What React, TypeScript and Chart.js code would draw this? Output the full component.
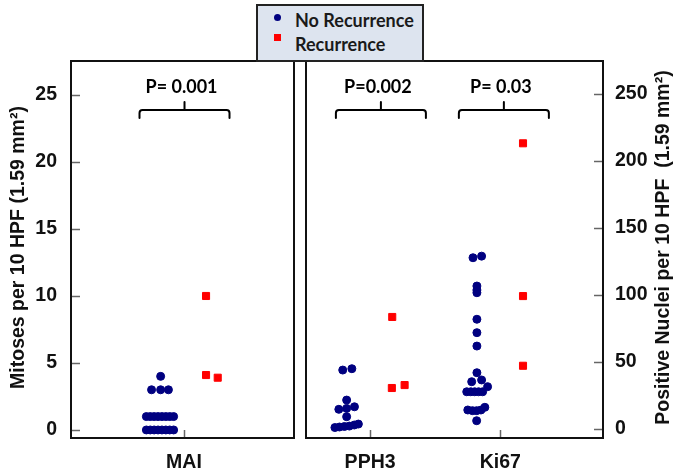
import React, { useEffect, useRef } from 'react';
import { Chart, registerables } from 'chart.js';
Chart.register(...registerables);

// ---------------- data ----------------
const leftCategories = ['MAI'];
const rightCategories = ['PPH3', 'Ki67'];
const leftTicks = [0, 5, 10, 15, 20, 25];
const rightTicks = [0, 50, 100, 150, 200, 250];
const seriesNames = ['No Recurrence', 'Recurrence'];
const leftPValues = ['P= 0.001'];
const rightPValues = ['P=0.002', 'P= 0.03'];
const leftTitle = 'Mitoses per 10 HPF (1.59 mm\u00B2)';
const rightTitle = 'Positive Nuclei per 10 HPF  (1.59 mm\u00B2)';

// MAI (left axis)
const maiNoRecValues = [0, 0, 0, 0, 0, 0, 0, 0, 1, 1, 1, 1, 1, 1, 1, 1, 3, 3, 3, 4];
const maiNoRecJitter = [-0.29, -0.26, -0.23, -0.2, -0.17, -0.14, -0.11, -0.08, -0.29, -0.26, -0.23, -0.2, -0.17, -0.14, -0.11, -0.08, -0.25, -0.18, -0.12, -0.18];
const maiRecValues = [10, 4.1, 3.9];
const maiRecJitter = [0.17, 0.17, 0.26];

// PPH3 (right axis)
const pph3NoRecValues = [44, 45, 21.6, 14.7, 15.4, 16.6, 9.2, 1.1, 1.5, 1.9, 2.2, 3.0, 3.7];
const pph3NoRecJitter = [-0.21, -0.14, -0.18, -0.24, -0.18, -0.12, -0.18, -0.27, -0.235, -0.197, -0.159, -0.121, -0.09];
const pph3RecValues = [83.6, 30.6, 32.8];
const pph3RecJitter = [0.17, 0.167, 0.265];

// Ki67 (right axis)
const ki67NoRecValues = [127.8, 129, 106.7, 103.7, 101.7, 81.9, 71.9, 61.9, 42, 35.3, 36.6, 27.8, 27.8, 27.8, 27.8, 27.8, 31.6, 14.2, 13.7, 13.7, 14.2, 16.2, 6.2];
const ki67NoRecJitter = [-0.21, -0.144, -0.18, -0.18, -0.18, -0.18, -0.18, -0.18, -0.18, -0.22, -0.144, -0.258, -0.227, -0.197, -0.167, -0.136, -0.098, -0.25, -0.214, -0.182, -0.149, -0.119, -0.182];
const ki67RecValues = [213.2, 99.2, 47.2];
const ki67RecJitter = [0.174, 0.174, 0.174];

// ---------------- styles ----------------
const NAVY = '#000080';
const RED = '#ff0000';
const AXIS_FONT = 'Liberation Sans, Arial, sans-serif';
const LABEL_FONT = 'Lato, sans-serif';

const toPoints = (pos: number, values: number[], jitter: number[]) =>
  values.map((v, i) => ({ x: pos + jitter[i], y: v }));

const panelPlugin = {
  id: 'panel',
  afterDraw(chart: any, _args: any, opts: any) {
    const { ctx, chartArea: a, scales } = chart;
    const xs = scales.x;
    const ys = scales.y;
    ctx.save();
    // inward ticks
    ctx.strokeStyle = '#666';
    ctx.lineWidth = 1.5;
    ys.ticks.forEach((t: any) => {
      const py = Math.round(ys.getPixelForValue(t.value)) + 0.5;
      ctx.beginPath();
      if (opts.side === 'left') {
        ctx.moveTo(a.left, py);
        ctx.lineTo(a.left + 9, py);
      } else {
        ctx.moveTo(a.right, py);
        ctx.lineTo(a.right - 9, py);
      }
      ctx.stroke();
    });
    xs.ticks.forEach((t: any) => {
      const px = Math.round(xs.getPixelForValue(t.value)) + 0.5;
      ctx.beginPath();
      ctx.moveTo(px, a.bottom);
      ctx.lineTo(px, a.bottom - 8);
      ctx.stroke();
    });
    // frame
    ctx.strokeStyle = '#111';
    ctx.lineWidth = 2;
    ctx.strokeRect(a.left, a.top, a.right - a.left, a.bottom - a.top);

    // brackets + p values
    ctx.strokeStyle = '#000';
    ctx.lineWidth = 2;
    ctx.lineCap = 'round';
    ctx.lineJoin = 'round';
    ctx.fillStyle = '#000';
    ctx.font = `bold 18px ${LABEL_FONT}`;
    ctx.textAlign = 'center';
    ctx.textBaseline = 'alphabetic';
    (opts.pLabels as string[]).forEach((label, i) => {
      const cx = xs.getPixelForValue(i + 1 + opts.bracketShift[i]);
      const hw = 45;
      const by = a.top + 49;
      const r = 3;
      ctx.beginPath();
      ctx.moveTo(cx - hw, by + 8);
      ctx.lineTo(cx - hw, by + r);
      ctx.quadraticCurveTo(cx - hw, by, cx - hw + r, by);
      ctx.lineTo(cx + hw - r, by);
      ctx.quadraticCurveTo(cx + hw, by, cx + hw, by + r);
      ctx.lineTo(cx + hw, by + 8);
      ctx.moveTo(cx, by);
      ctx.lineTo(cx, by - 8);
      ctx.stroke();
      ctx.fillText(label, cx - 3, a.top + 32);
    });

    // axis title (reads bottom to top)
    ctx.font = `bold 19.5px ${AXIS_FONT}`;
    ctx.fillStyle = '#111';
    const midY = (a.top + a.bottom) / 2 - 2;
    ctx.translate(opts.titleX, midY);
    ctx.rotate(-Math.PI / 2);
    ctx.textAlign = 'center';
    ctx.fillText(opts.title, 0, 0);
    ctx.restore();
  },
};

function makeConfig(
  categories: string[],
  ticks: number[],
  datasets: any[],
  side: 'left' | 'right',
  xmin: number,
  xmax: number,
  ymin: number,
  ymax: number,
  pLabels: string[],
  bracketShift: number[],
  title: string,
  titleX: number
): any {
  return {
    type: 'scatter',
    data: { datasets },
    plugins: [panelPlugin],
    options: {
      animation: false,
      responsive: false,
      maintainAspectRatio: false,
      layout: {
        padding: side === 'left' ? { top: 61, right: 2, left: 0, bottom: 0 } : { top: 61, left: 2, right: 0, bottom: 0 },
      },
      plugins: {
        legend: { display: false },
        tooltip: { enabled: false },
        panel: { side, pLabels, bracketShift, title, titleX },
      },
      scales: {
        x: {
          type: 'linear',
          min: xmin,
          max: xmax,
          grid: { display: false, drawTicks: false },
          border: { display: false },
          afterBuildTicks: (s: any) => {
            s.ticks = categories.map((_c, i) => ({ value: i + 1 }));
          },
          afterFit: (s: any) => {
            s.height = 35;
          },
          ticks: {
            padding: 13,
            color: '#111',
            font: { family: AXIS_FONT, weight: 'bold', size: 19.5 },
            callback: (v: number) => categories[Math.round(v) - 1] ?? '',
            maxRotation: 0,
            autoSkip: false,
          },
        },
        y: {
          type: 'linear',
          position: side,
          min: ymin,
          max: ymax,
          grid: { display: false, drawTicks: false },
          border: { display: false },
          afterBuildTicks: (s: any) => {
            s.ticks = ticks.map((v) => ({ value: v }));
          },
          afterFit: (s: any) => {
            s.width = side === 'left' ? 71 : 75;
          },
          ticks: {
            padding: side === 'left' ? 14 : 12,
            color: '#111',
            font: { family: AXIS_FONT, weight: 'bold', size: 19.5 },
            callback: (v: number) => String(v),
          },
        },
      },
    },
  };
}

const dotStyle = {
  pointStyle: 'circle',
  pointRadius: 4,
  pointBorderWidth: 1,
  backgroundColor: NAVY,
  borderColor: NAVY,
};
const squareStyle = {
  pointStyle: 'rect',
  pointRadius: 5,
  pointBorderWidth: 1,
  backgroundColor: RED,
  borderColor: RED,
};

export default function App() {
  const leftRef = useRef<HTMLCanvasElement>(null);
  const rightRef = useRef<HTMLCanvasElement>(null);

  useEffect(() => {
    const leftChart = new Chart(
      leftRef.current as HTMLCanvasElement,
      makeConfig(
        leftCategories,
        leftTicks,
        [
          { label: seriesNames[0], data: toPoints(1, maiNoRecValues, maiNoRecJitter), ...dotStyle },
          { label: seriesNames[1], data: toPoints(1, maiRecValues, maiRecJitter), ...squareStyle },
        ],
        'left',
        0.129,
        1.848,
        -0.6,
        27.54,
        leftPValues,
        [0.004],
        leftTitle,
        24
      )
    );
    const rightChart = new Chart(
      rightRef.current as HTMLCanvasElement,
      makeConfig(
        rightCategories,
        rightTicks,
        [
          {
            label: seriesNames[0],
            data: [...toPoints(1, pph3NoRecValues, pph3NoRecJitter), ...toPoints(2, ki67NoRecValues, ki67NoRecJitter)],
            ...dotStyle,
          },
          {
            label: seriesNames[1],
            data: [...toPoints(1, pph3RecValues, pph3RecJitter), ...toPoints(2, ki67RecValues, ki67RecJitter)],
            ...squareStyle,
          },
        ],
        'right',
        0.508,
        2.788,
        -6.7,
        274.6,
        rightPValues,
        [0.083, 0.027],
        rightTitle,
        369
      )
    );
    return () => {
      leftChart.destroy();
      rightChart.destroy();
    };
  }, []);

  return (
    <div style={{ position: 'fixed', left: 0, top: 0, width: 678, height: 473, background: '#fff' }}>
      <canvas ref={leftRef} width={300} height={473} style={{ position: 'absolute', left: 0, top: 0, display: 'block' }} />
      <canvas ref={rightRef} width={378} height={473} style={{ position: 'absolute', left: 300, top: 0, display: 'block' }} />
      <div
        style={{
          position: 'absolute',
          left: 256,
          top: 4,
          width: 168,
          height: 58,
          boxSizing: 'border-box',
          border: '2px solid #222',
          background: '#dde4ef',
          fontFamily: LABEL_FONT,
          fontWeight: 700,
          fontSize: 18,
          lineHeight: '18px',
          color: '#1a1a1a',
        }}
      >
        <span style={{ position: 'absolute', left: 15.5, top: 7.5, width: 7, height: 7, borderRadius: '50%', background: NAVY }} />
        <span style={{ position: 'absolute', left: 15.5, top: 28, width: 7, height: 7, background: RED }} />
        <span style={{ position: 'absolute', left: 37, top: 5, whiteSpace: 'nowrap' }}>{seriesNames[0]}</span>
        <span style={{ position: 'absolute', left: 37, top: 28.5, whiteSpace: 'nowrap' }}>{seriesNames[1]}</span>
      </div>
    </div>
  );
}
